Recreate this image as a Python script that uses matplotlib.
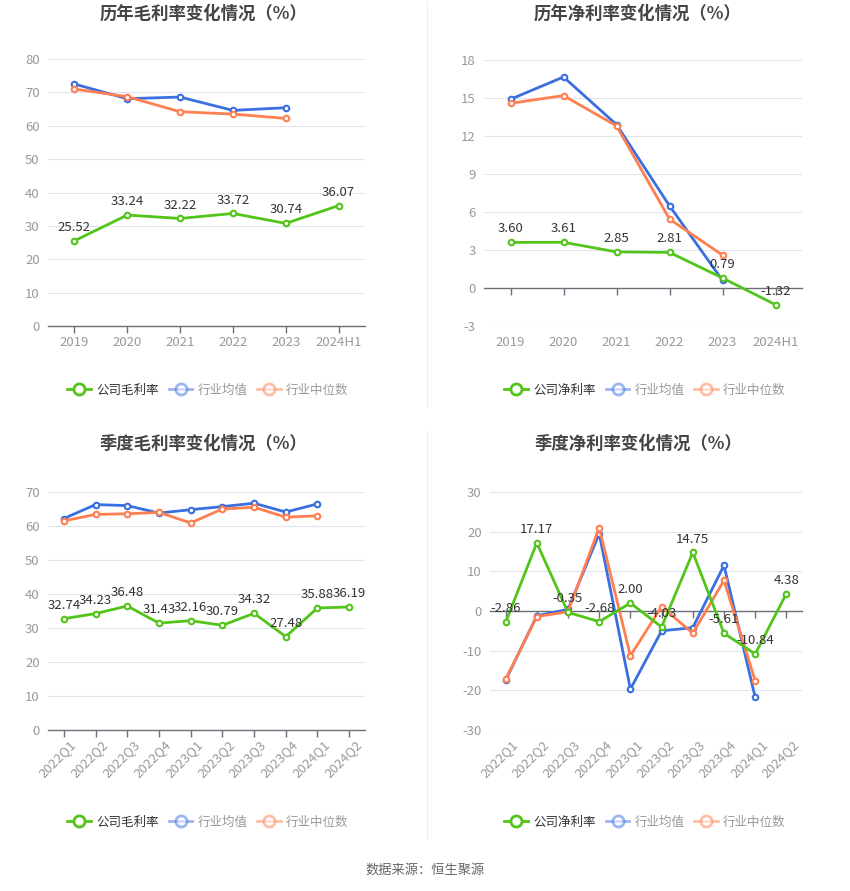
import matplotlib
matplotlib.use('Agg')
import matplotlib.pyplot as plt
from matplotlib.lines import Line2D

plt.rcParams['font.family'] = ['Noto Sans CJK SC', 'DejaVu Sans']
plt.rcParams['axes.unicode_minus'] = False

GREEN = '#52c41a'
BLUE = '#3a6fe0'
ORANGE = '#ff7f50'
GRID = '#e0e6f1'
AXIS = '#6e7079'
TICK_TXT = '#999999'

# annual data
years = ['2019', '2020', '2021', '2022', '2023', '2024H1']
gross_company = [25.52, 33.24, 32.22, 33.72, 30.74, 36.07]
gross_mean = [72.5, 68.1, 68.6, 64.6, 65.4]
gross_median = [71.0, 68.7, 64.2, 63.5, 62.2]

net_company = [3.60, 3.61, 2.85, 2.81, 0.79, -1.32]
net_mean = [14.9, 16.66, 12.9, 6.49, 0.6]
net_median = [14.58, 15.19, 12.8, 5.44, 2.6]

# quarterly data
quarters = ['2022Q1', '2022Q2', '2022Q3', '2022Q4', '2023Q1', '2023Q2',
            '2023Q3', '2023Q4', '2024Q1', '2024Q2']
q_gross_company = [32.74, 34.23, 36.48, 31.43, 32.16, 30.79, 34.32, 27.48, 35.88, 36.19]
q_gross_mean = [62.2, 66.3, 66.0, 63.8, 64.8, 65.7, 66.7, 64.1, 66.5]
q_gross_median = [61.5, 63.4, 63.6, 64.0, 60.9, 65.0, 65.5, 62.6, 63.0]

q_net_company = [-2.86, 17.17, -0.35, -2.68, 2.00, -4.03, 14.75, -5.61, -10.84, 4.38]
q_net_mean = [-17.5, -1.2, 0.4, 19.5, -19.7, -5.0, -4.2, 11.5, -21.8]
q_net_median = [-17.2, -1.4, -0.2, 21.0, -11.3, 1.1, -5.6, 7.7, -17.6]

W, H = 850, 891
fig = plt.figure(figsize=(W / 100, H / 100), dpi=100)


def px_axes(x0, y0, x1, y1):
    return fig.add_axes([x0 / W, 1 - y1 / H, (x1 - x0) / W, (y1 - y0) / H])


def series(ax, vals, color, z):
    ax.plot(range(len(vals)), vals, color=color, lw=2, marker='o', ms=4,
            mfc='white', mec=color, mew=1.5, zorder=z, clip_on=False)


def panel(ax, cats, comp, mean, med, ylim, yticks, rotate=False):
    n = len(cats)
    ax.set_xlim(-0.5, n - 0.5)
    ax.set_ylim(*ylim)
    for s in ['top', 'right', 'left']:
        ax.spines[s].set_visible(False)
    ax.spines['bottom'].set_position(('data', 0))
    ax.spines['bottom'].set_color(AXIS)
    ax.spines['bottom'].set_linewidth(1)
    ax.set_yticks(yticks)
    ax.set_yticklabels([str(v) for v in yticks])
    ax.tick_params(axis='y', length=0, labelsize=9.5, labelcolor=TICK_TXT, pad=6)
    for v in yticks:
        if v != 0:
            ax.axhline(v, color=GRID, lw=0.8, zorder=0)
    ax.set_xticks(range(n))
    ax.set_xticklabels([])
    ax.tick_params(axis='x', length=5, color=AXIS, width=1, direction='out')
    tr = ax.get_xaxis_transform()
    for i, c in enumerate(cats):
        if rotate:
            ax.annotate(c, xy=(i, 0), xycoords=tr, xytext=(4, -6),
                        textcoords='offset points', rotation=45,
                        rotation_mode='anchor', ha='right', va='top',
                        fontsize=9.5, color=TICK_TXT)
        else:
            ax.annotate(c, xy=(i, 0), xycoords=tr, xytext=(0, -7),
                        textcoords='offset points', ha='center', va='top',
                        fontsize=9.5, color=TICK_TXT)
    series(ax, mean, BLUE, 3)
    series(ax, med, ORANGE, 4)
    series(ax, comp, GREEN, 5)
    for i, v in enumerate(comp):
        ax.annotate(f'{v:.2f}', xy=(i, v), xytext=(0, 5), textcoords='offset points',
                    ha='center', va='bottom', fontsize=9.5, color='#333333', zorder=6)


def legend(cx, cy, first):
    handles = [
        Line2D([], [], color=GREEN, lw=2, marker='o', ms=8, mfc='white', mec=GREEN, mew=2),
        Line2D([], [], color=BLUE, lw=2, marker='o', ms=8, mfc='white', mec=BLUE, mew=2, alpha=0.5),
        Line2D([], [], color=ORANGE, lw=2, marker='o', ms=8, mfc='white', mec=ORANGE, mew=2, alpha=0.5),
    ]
    leg = fig.legend(handles, [first, '行业均值', '行业中位数'], loc='center',
                     bbox_to_anchor=(cx / W, 1 - cy / H), ncol=3, frameon=False,
                     fontsize=9, handlelength=1.9, handletextpad=0.4,
                     columnspacing=0.8)
    for t, c in zip(leg.get_texts(), ['#333333', '#999999', '#999999']):
        t.set_color(c)


ax1 = px_axes(48, 59, 365, 326)
panel(ax1, years, gross_company, gross_mean, gross_median, (0, 80), list(range(0, 81, 10)))
ax2 = px_axes(484, 60, 802, 326)
panel(ax2, years, net_company, net_mean, net_median, (-3, 18), list(range(-3, 19, 3)))
ax3 = px_axes(48, 492, 365, 730)
panel(ax3, quarters, q_gross_company, q_gross_mean, q_gross_median, (0, 70),
      list(range(0, 71, 10)), rotate=True)
ax4 = px_axes(490, 492, 802, 730)
panel(ax4, quarters, q_net_company, q_net_mean, q_net_median, (-30, 30),
      list(range(-30, 31, 10)), rotate=True)

title_kw = dict(ha='center', va='center', fontsize=12.5, fontweight='bold', color='#444444')
fig.text(203 / W, 1 - 14 / H, '历年毛利率变化情况（%）', **title_kw)
fig.text(638 / W, 1 - 14 / H, '历年净利率变化情况（%）', **title_kw)
fig.text(203 / W, 1 - 444 / H, '季度毛利率变化情况（%）', **title_kw)
fig.text(638 / W, 1 - 444 / H, '季度净利率变化情况（%）', **title_kw)

legend(208, 390, '公司毛利率')
legend(645, 390, '公司净利率')
legend(208, 822, '公司毛利率')
legend(645, 822, '公司净利率')

fig.add_artist(Line2D([427 / W, 427 / W], [1 - 2 / H, 1 - 407 / H], color='#f0f0f0', lw=1))
fig.add_artist(Line2D([427 / W, 427 / W], [1 - 431 / H, 1 - 838 / H], color='#f0f0f0', lw=1))

fig.text(425 / W, 1 - 870 / H, '数据来源：恒生聚源', ha='center', va='center',
         fontsize=9.5, color='#666666')

fig.savefig('out.png', dpi=100, facecolor='white')
